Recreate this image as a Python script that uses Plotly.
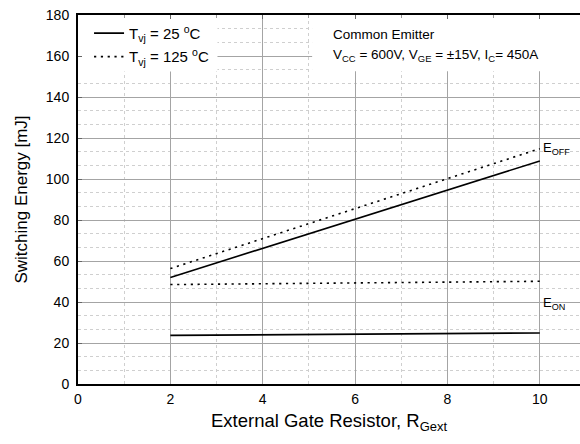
import plotly.graph_objects as go

# Gate resistance values [ohm]
r_gate = [2, 4, 6, 8, 10]

# Switching energies [mJ]
eoff_25 = [52.0, 66.2, 80.4, 94.6, 108.8]
eoff_125 = [56.3, 71.0, 85.6, 100.2, 114.8]
eon_25 = [23.7, 24.0, 24.3, 24.6, 24.9]
eon_125 = [48.5, 48.9, 49.3, 49.7, 50.1]

x_ticks = [0, 2, 4, 6, 8, 10]
y_ticks = [0, 20, 40, 60, 80, 100, 120, 140, 160, 180]

X_MAX = 10.87
FONT = "Liberation Sans, Arial, sans-serif"

fig = go.Figure()

solid = dict(color="black", width=1.6)
dotted = dict(color="black", width=1.6, dash="2.2px,4.6px")

fig.add_trace(go.Scatter(x=r_gate, y=eoff_25, mode="lines", line=solid,
                         name="T<sub>vj</sub> = 25 <sup>o</sup>C", legendgroup="a"))
fig.add_trace(go.Scatter(x=r_gate, y=eoff_125, mode="lines", line=dotted,
                         name="T<sub>vj</sub> = 125 <sup>o</sup>C", legendgroup="b"))
fig.add_trace(go.Scatter(x=r_gate, y=eon_25, mode="lines", line=solid,
                         showlegend=False, legendgroup="a"))
fig.add_trace(go.Scatter(x=r_gate, y=eon_125, mode="lines", line=dotted,
                         showlegend=False, legendgroup="b"))
# invisible carrier for the top (mirror) axis
fig.add_trace(go.Scatter(x=[0, X_MAX], y=[0, 0], xaxis="x2", mode="lines",
                         line=dict(width=0), showlegend=False, hoverinfo="skip"))

# white panels behind legend and condition text
fig.add_shape(type="rect", xref="x", yref="y", x0=0, x1=3.02, y0=152.4, y1=180,
              fillcolor="white", line=dict(width=0), layer="between")
fig.add_shape(type="rect", xref="x", yref="y", x0=5.07, x1=X_MAX, y0=152.6, y1=180,
              fillcolor="white", line=dict(width=0), layer="between")

fig.add_annotation(x=10.02, y=eoff_125[-1] + 0.3, xref="x", yref="y",
                   text="E<sub>OFF</sub>", showarrow=False, xanchor="left",
                   font=dict(family=FONT, size=13, color="black"))
fig.add_annotation(x=10.02, y=eon_25[-1] + 14.3, xref="x", yref="y",
                   text="E<sub>ON</sub>", showarrow=False, xanchor="left",
                   font=dict(family=FONT, size=13, color="black"))

fig.add_annotation(x=5.48, y=170.5, xref="x", yref="y",
                   text="Common Emitter",
                   showarrow=False, xanchor="left", yanchor="middle", align="left",
                   font=dict(family=FONT, size=13.5, color="black"))
fig.add_annotation(x=5.48, y=160.2, xref="x", yref="y",
                   text="V<sub>CC</sub> = 600V, V<sub>GE</sub> = ±15V, I<sub>C</sub>= 450A",
                   showarrow=False, xanchor="left", yanchor="middle", align="left",
                   font=dict(family=FONT, size=13.5, color="black"))

axis_common = dict(showline=True, linecolor="black", linewidth=2, zeroline=False,
                   showgrid=True, gridcolor="#a4a4a4", gridwidth=1.3)

fig.update_layout(
    width=580, height=444,
    margin=dict(l=78, r=0, t=15, b=60),
    paper_bgcolor="white", plot_bgcolor="white",
    font=dict(family=FONT, size=14, color="black"),
    showlegend=True,
    legend=dict(x=0.022, y=0.995, xanchor="left", yanchor="top",
                bgcolor="rgba(0,0,0,0)", borderwidth=0,
                font=dict(family=FONT, size=15, color="black"),
                tracegroupgap=1),
    xaxis=dict(
        range=[0, X_MAX], tickvals=x_ticks, ticks="", ticklabelstandoff=1,
        minor=dict(dtick=1, showgrid=True, gridcolor="#cfcfcf",
                   griddash="3px,3px", gridwidth=1),
        title=dict(text="External Gate Resistor, R<sub>Gext</sub>",
                   font=dict(family=FONT, size=18.5), standoff=8),
        tickfont=dict(family=FONT, size=14),
        **axis_common,
    ),
    xaxis2=dict(
        overlaying="x", side="top", range=[0, X_MAX], tickvals=x_ticks,
        showticklabels=False, ticks="inside", ticklen=4, tickcolor="#666666",
        minor=dict(dtick=1, ticks="inside", ticklen=3, tickcolor="#999999"),
        showline=True, linecolor="black", linewidth=2, showgrid=False, zeroline=False,
    ),
    yaxis=dict(
        range=[0, 180], tickvals=y_ticks, ticks="inside", ticklen=4,
        tickcolor="#666666", ticklabelstandoff=4,
        minor=dict(dtick=20 / 3, tick0=0, showgrid=True, gridcolor="#cfcfcf",
                   griddash="3px,3px", gridwidth=1),
        title=dict(text="Switching Energy [mJ]",
                   font=dict(family=FONT, size=17), standoff=14),
        tickfont=dict(family=FONT, size=14),
        **axis_common,
    ),
)

fig.write_html("out.html")
